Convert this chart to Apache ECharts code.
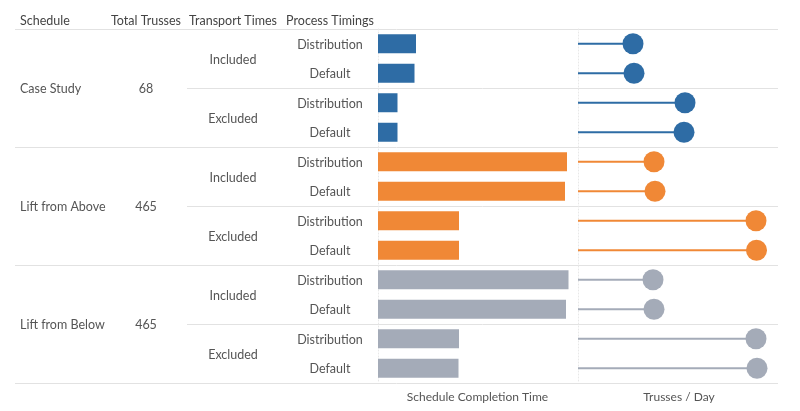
<!DOCTYPE html>
<html>
<head>
<meta charset="utf-8">
<script src="https://cdn.jsdelivr.net/npm/echarts@6/dist/echarts.min.js"></script>
<style>
html, body { margin: 0; padding: 0; background: #fff; }
#chart { width: 800px; height: 411px; }
</style>
</head>
<body>
<div id="chart"></div>
<script>
'use strict';

var headers = ['Schedule', 'Total Trusses', 'Transport Times', 'Process Timings'];
var schedules = ['Case Study', 'Lift from Above', 'Lift from Below'];
var totalTrusses = [68, 465, 465];
var transportTimes = ['Included', 'Excluded'];
var processTimings = ['Distribution', 'Default'];

// one value per row, rows ordered schedule > transport > timing
var completionTime = [38, 36.5, 19.5, 19.5, 189, 187, 81, 81, 190.5, 188, 81, 80.5];
var trussesPerDay = [55, 56, 107, 106, 76, 77, 178, 178.5, 75, 76, 178, 179];

var colors = ['#2e6ca5', '#f08836', '#a4abb8'];
var textColor = '#555';
var font = '12.5px Lato, "Open Sans", sans-serif';

// header / column text positions
var colX = { schedule: 20, trusses: 146, transport: 233, timing: 330 };
var lineLeft = 15, subLineLeft = 187, lineRight = 778;

// build row list
var rows = [];
schedules.forEach(function (s, si) {
    transportTimes.forEach(function (t, ti) {
        processTimings.forEach(function (p) {
            rows.push({ key: s + '|' + t + '|' + p, schedule: si, transport: ti, timing: p });
        });
    });
});
var rowKeys = rows.map(function (r) { return r.key; });

function colored(values) {
    return values.map(function (v, i) {
        return { value: v, itemStyle: { color: colors[rows[i].schedule], opacity: 1 } };
    });
}

var chart = echarts.init(document.getElementById('chart'), null, { renderer: 'canvas' });

function yAxisConf(gridIndex) {
    return {
        type: 'category',
        gridIndex: gridIndex,
        inverse: true,
        data: rowKeys,
        axisLabel: { show: false },
        axisTick: { show: false },
        splitLine: { show: false },
        axisLine: { show: true, lineStyle: { color: '#e8e8e8', type: [1, 2], width: 1 } }
    };
}

function xAxisConf(gridIndex, name, max) {
    return {
        type: 'value',
        gridIndex: gridIndex,
        min: 0,
        max: max,
        name: name,
        nameLocation: 'middle',
        nameGap: 8,
        nameTextStyle: { color: textColor, fontSize: 12, fontFamily: 'Lato, "Open Sans", sans-serif' },
        axisLine: { show: false },
        axisTick: { show: false },
        axisLabel: { show: false },
        splitLine: { show: false }
    };
}

chart.setOption({
    animation: false,
    grid: [
        { left: 378, top: 29, width: 199, height: 354 },
        { left: 578, top: 29, width: 202, height: 354 }
    ],
    xAxis: [
        xAxisConf(0, 'Schedule Completion Time', 199),
        xAxisConf(1, 'Trusses / Day', 202)
    ],
    yAxis: [yAxisConf(0), yAxisConf(1)],
    series: [
        {
            type: 'bar',
            xAxisIndex: 0,
            yAxisIndex: 0,
            barWidth: 19,
            data: colored(completionTime)
        },
        {
            type: 'bar',
            xAxisIndex: 1,
            yAxisIndex: 1,
            barWidth: 2,
            data: colored(trussesPerDay)
        },
        {
            type: 'scatter',
            xAxisIndex: 1,
            yAxisIndex: 1,
            symbolSize: 21,
            z: 3,
            data: colored(trussesPerDay)
        }
    ]
});

// table text and separators placed from the category axis
function rowY(i) {
    return chart.convertToPixel({ yAxisIndex: 0 }, rowKeys[i]);
}
var band = rowY(1) - rowY(0);

function text(str, x, y, align, color) {
    return {
        type: 'text',
        silent: true,
        x: x,
        y: y + 1,
        style: {
            text: String(str),
            font: font,
            fill: color || textColor,
            textAlign: align,
            textVerticalAlign: 'middle'
        }
    };
}

function hline(y, x1) {
    y = Math.round(y) + 0.5;
    return {
        type: 'line',
        silent: true,
        shape: { x1: x1, y1: y, x2: lineRight, y2: y },
        style: { stroke: '#e2e2e2', lineWidth: 1 }
    };
}

var elements = [];
var headerY = rowY(0) - band / 2 - 9;
elements.push(text(headers[0], colX.schedule, headerY, 'left', '#444'));
elements.push(text(headers[1], colX.trusses, headerY, 'center', '#444'));
elements.push(text(headers[2], colX.transport, headerY, 'center', '#444'));
elements.push(text(headers[3], colX.timing, headerY, 'center', '#444'));

var perSchedule = transportTimes.length * processTimings.length;
schedules.forEach(function (s, si) {
    var first = si * perSchedule;
    var mid = (rowY(first) + rowY(first + perSchedule - 1)) / 2;
    elements.push(text(s, colX.schedule, mid, 'left'));
    elements.push(text(totalTrusses[si], colX.trusses, mid, 'center'));
    elements.push(hline(rowY(first) - band / 2, lineLeft));
    transportTimes.forEach(function (t, ti) {
        var f = first + ti * processTimings.length;
        var m = (rowY(f) + rowY(f + processTimings.length - 1)) / 2;
        elements.push(text(t, colX.transport, m, 'center'));
        if (ti > 0) {
            elements.push(hline(rowY(f) - band / 2, subLineLeft));
        }
    });
});
elements.push(hline(rowY(rows.length - 1) + band / 2, lineLeft));

rows.forEach(function (r, i) {
    elements.push(text(r.timing, colX.timing, rowY(i), 'center'));
});

chart.setOption({ graphic: { elements: elements } });
</script>
</body>
</html>
